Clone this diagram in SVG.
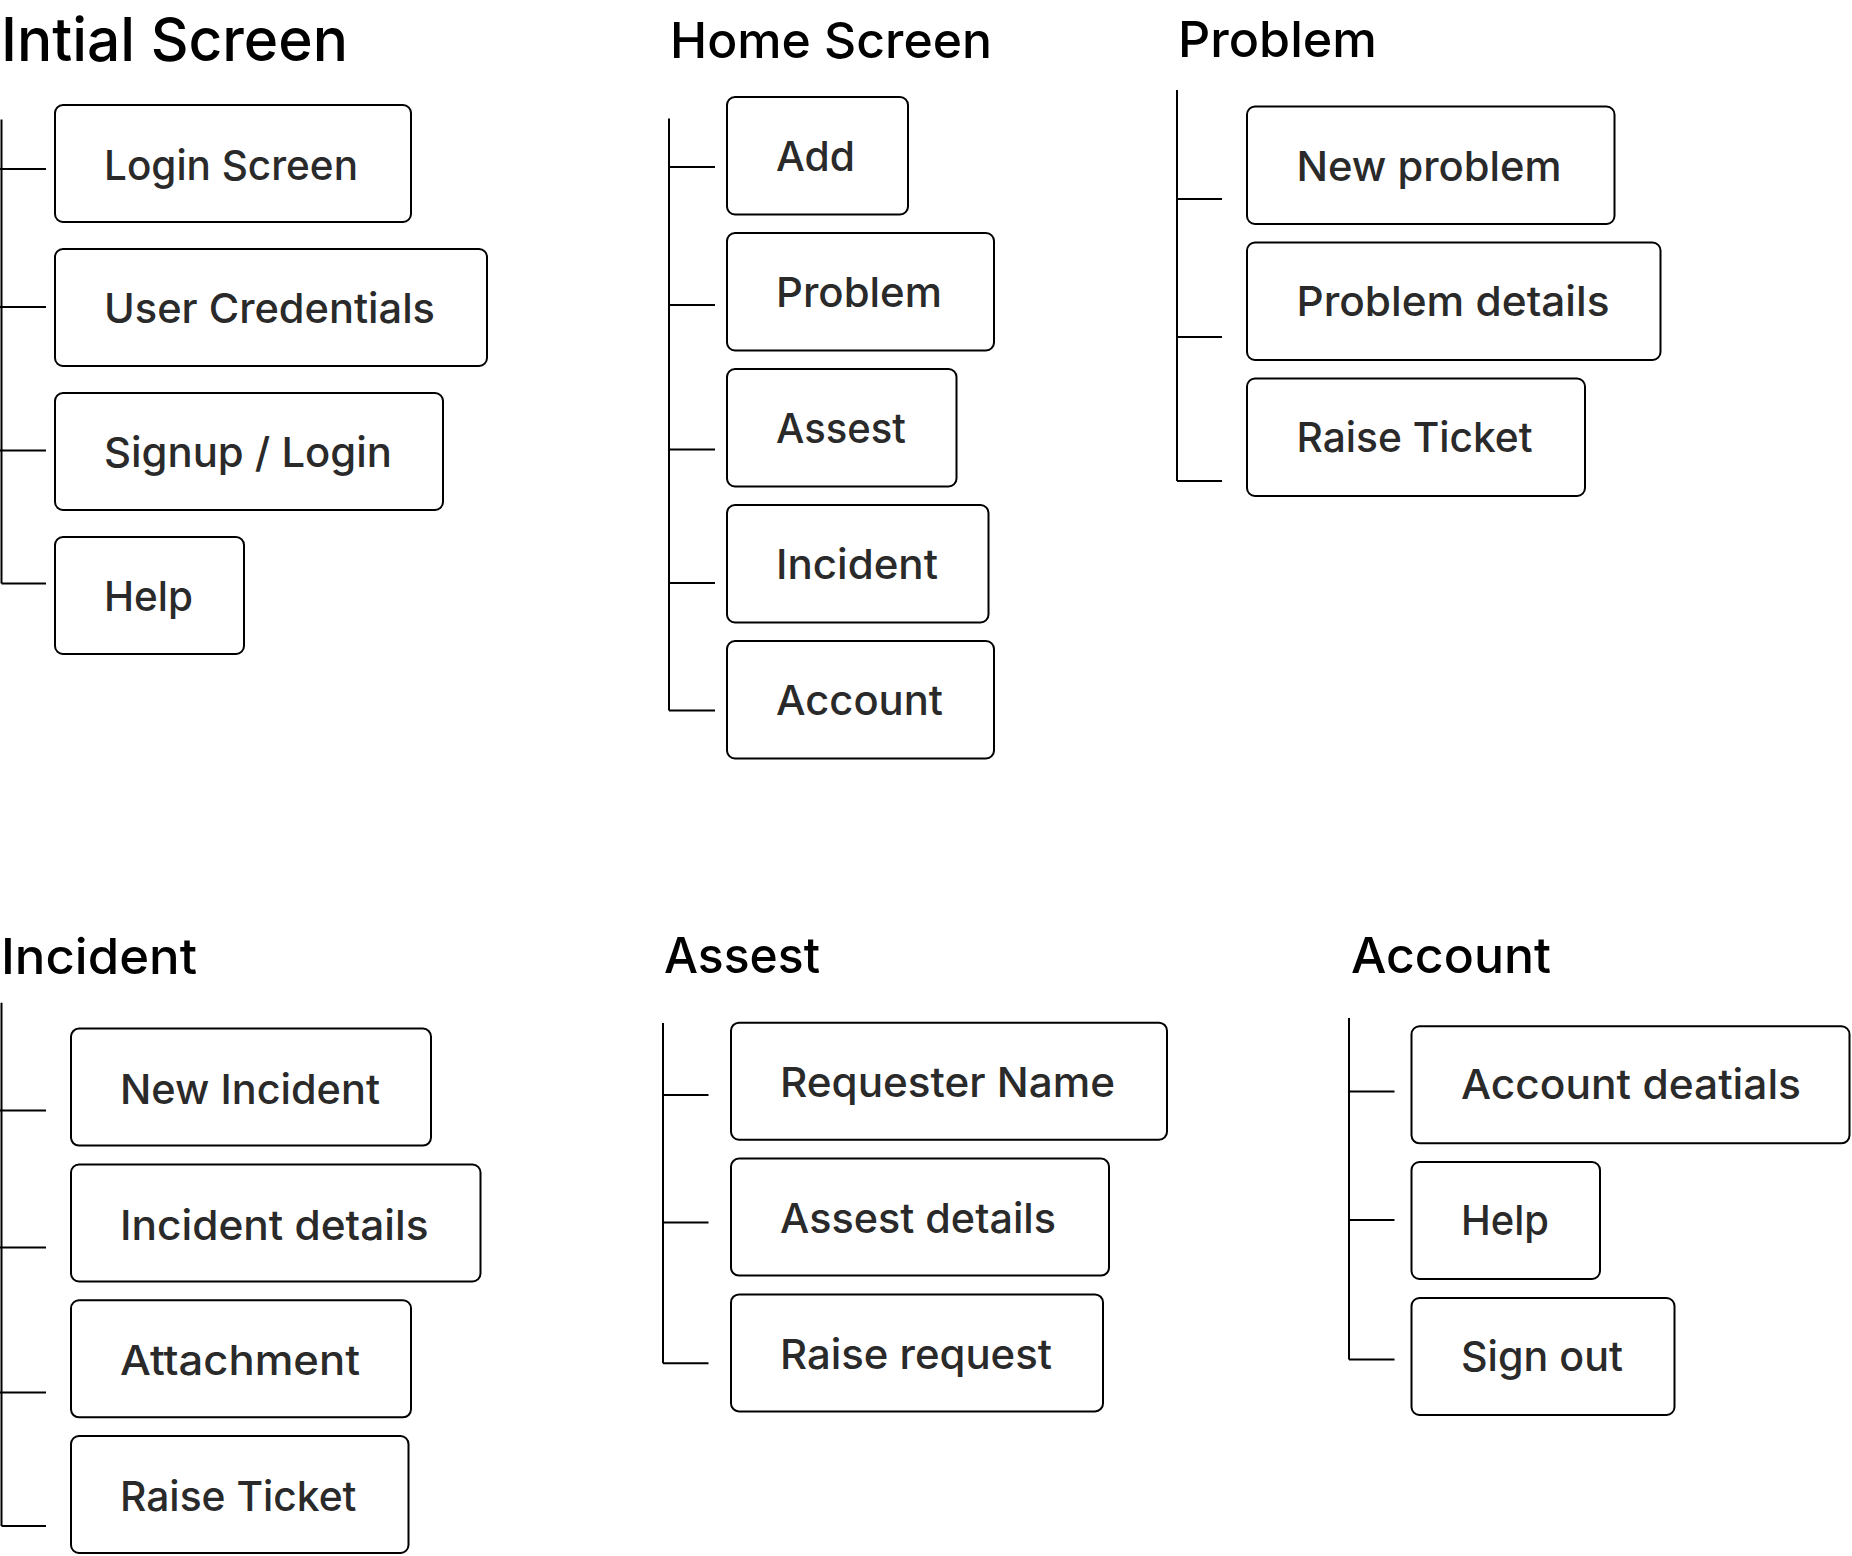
<svg xmlns="http://www.w3.org/2000/svg" width="1852" height="1556" viewBox="0 0 1852 1556">
<style>
.bg{fill:#ffffff}
.box{fill:#ffffff;stroke:#000000;stroke-width:2}
.lbl{font-family:Inter,"Open Sans","Liberation Sans",sans-serif;font-weight:500;font-size:41px;fill:#2a2a2a}
.ttl{font-family:Inter,"Open Sans","Liberation Sans",sans-serif;font-weight:500;font-size:50px;fill:#000000}
.big{font-size:60px}
.con{fill:none;stroke:#000000;stroke-width:2}
</style>
<rect class="bg" x="0" y="0" width="1852" height="1556"/>

<g id="connectors">
  <path class="con" d="M1.5,119.5 V583.5 M0,169 H46 M0,307 H46 M0,450.5 H46 M1.5,583.5 H46"/>
  <path class="con" d="M669,118.5 V710.5 M669,167 H715 M669,305 H715 M669,449.5 H715 M669,583 H715 M669,710.5 H715"/>
  <path class="con" d="M1177,90 V481 M1177,199 H1222 M1177,337 H1222 M1177,481 H1222"/>
  <path class="con" d="M1.5,1002.7 V1526 M0,1110.5 H46 M0,1247.5 H46 M0,1392.5 H46 M1.5,1526 H46"/>
  <path class="con" d="M663,1023 V1363.3 M663,1095 H708.5 M663,1222.5 H708.5 M663,1363.3 H708.5"/>
  <path class="con" d="M1349,1018 V1359.5 M1349,1091.5 H1394.5 M1349,1220 H1394.5 M1349,1359.5 H1394.5"/>
</g>

<g id="title-initial"><text class="ttl big" x="1" y="61" textLength="347" lengthAdjust="spacingAndGlyphs">Intial Screen</text></g>
<g id="node-login-screen"><rect class="box" x="55" y="105" width="356" height="117" rx="8"/><text class="lbl" x="104" y="179.5" textLength="254" lengthAdjust="spacingAndGlyphs">Login Screen</text></g>
<g id="node-user-credentials"><rect class="box" x="55" y="249" width="432" height="117" rx="8"/><text class="lbl" x="104" y="322.5" textLength="331" lengthAdjust="spacingAndGlyphs">User Credentials</text></g>
<g id="node-signup-login"><rect class="box" x="55" y="393" width="388" height="117" rx="8"/><text class="lbl" x="104" y="466.5" textLength="288" lengthAdjust="spacingAndGlyphs">Signup / Login</text></g>
<g id="node-help-initial"><rect class="box" x="55" y="537" width="189" height="117" rx="8"/><text class="lbl" x="104" y="610.5" textLength="89" lengthAdjust="spacingAndGlyphs">Help</text></g>

<g id="title-home"><text class="ttl" x="670" y="57.5" textLength="322" lengthAdjust="spacingAndGlyphs">Home Screen</text></g>
<g id="node-add"><rect class="box" x="727" y="97" width="181" height="117.5" rx="8"/><text class="lbl" x="776" y="171" textLength="79" lengthAdjust="spacingAndGlyphs">Add</text></g>
<g id="node-problem"><rect class="box" x="727" y="233" width="267" height="117.5" rx="8"/><text class="lbl" x="776" y="307" textLength="166" lengthAdjust="spacingAndGlyphs">Problem</text></g>
<g id="node-assest"><rect class="box" x="727" y="369" width="229.5" height="117.5" rx="8"/><text class="lbl" x="776" y="443" textLength="130" lengthAdjust="spacingAndGlyphs">Assest</text></g>
<g id="node-incident"><rect class="box" x="727" y="505" width="261.5" height="117.5" rx="8"/><text class="lbl" x="776" y="579" textLength="162" lengthAdjust="spacingAndGlyphs">Incident</text></g>
<g id="node-account"><rect class="box" x="727" y="641" width="267" height="117.5" rx="8"/><text class="lbl" x="776" y="715" textLength="167" lengthAdjust="spacingAndGlyphs">Account</text></g>

<g id="title-problem"><text class="ttl" x="1178" y="57" textLength="199" lengthAdjust="spacingAndGlyphs">Problem</text></g>
<g id="node-new-problem"><rect class="box" x="1247" y="106.5" width="367.5" height="117.5" rx="8"/><text class="lbl" x="1296.5" y="180.5" textLength="265" lengthAdjust="spacingAndGlyphs">New problem</text></g>
<g id="node-problem-details"><rect class="box" x="1247" y="242.5" width="413.5" height="117.5" rx="8"/><text class="lbl" x="1296.5" y="316" textLength="313" lengthAdjust="spacingAndGlyphs">Problem details</text></g>
<g id="node-raise-ticket-problem"><rect class="box" x="1247" y="378.5" width="338" height="117.5" rx="8"/><text class="lbl" x="1296.5" y="452" textLength="236" lengthAdjust="spacingAndGlyphs">Raise Ticket</text></g>

<g id="title-incident"><text class="ttl" x="1" y="973.6" textLength="196" lengthAdjust="spacingAndGlyphs">Incident</text></g>
<g id="node-new-incident"><rect class="box" x="71" y="1028.6" width="360" height="117" rx="8"/><text class="lbl" x="120" y="1103.6" textLength="260" lengthAdjust="spacingAndGlyphs">New Incident</text></g>
<g id="node-incident-details"><rect class="box" x="71" y="1164.5" width="409.5" height="117" rx="8"/><text class="lbl" x="120" y="1239.5" textLength="308.5" lengthAdjust="spacingAndGlyphs">Incident details</text></g>
<g id="node-attachment"><rect class="box" x="71" y="1300.3" width="340" height="117" rx="8"/><text class="lbl" x="120" y="1375.3" textLength="240" lengthAdjust="spacingAndGlyphs">Attachment</text></g>
<g id="node-raise-ticket-incident"><rect class="box" x="71" y="1436" width="337.5" height="117" rx="8"/><text class="lbl" x="120" y="1511" textLength="236.5" lengthAdjust="spacingAndGlyphs">Raise Ticket</text></g>

<g id="title-assest"><text class="ttl" x="664" y="973" textLength="156" lengthAdjust="spacingAndGlyphs">Assest</text></g>
<g id="node-requester-name"><rect class="box" x="731" y="1022.7" width="436" height="117" rx="8"/><text class="lbl" x="780" y="1097" textLength="335" lengthAdjust="spacingAndGlyphs">Requester Name</text></g>
<g id="node-assest-details"><rect class="box" x="731" y="1158.6" width="378" height="117" rx="8"/><text class="lbl" x="780" y="1233" textLength="276" lengthAdjust="spacingAndGlyphs">Assest details</text></g>
<g id="node-raise-request"><rect class="box" x="731" y="1294.4" width="372" height="117" rx="8"/><text class="lbl" x="780" y="1368.7" textLength="272" lengthAdjust="spacingAndGlyphs">Raise request</text></g>

<g id="title-account"><text class="ttl" x="1351" y="973.4" textLength="200" lengthAdjust="spacingAndGlyphs">Account</text></g>
<g id="node-account-deatials"><rect class="box" x="1411.5" y="1026.3" width="438" height="117" rx="8"/><text class="lbl" x="1461" y="1099" textLength="340" lengthAdjust="spacingAndGlyphs">Account deatials</text></g>
<g id="node-help-account"><rect class="box" x="1411.5" y="1162" width="188.5" height="117" rx="8"/><text class="lbl" x="1461" y="1235" textLength="88" lengthAdjust="spacingAndGlyphs">Help</text></g>
<g id="node-sign-out"><rect class="box" x="1411.5" y="1298" width="263" height="117" rx="8"/><text class="lbl" x="1461" y="1371" textLength="162" lengthAdjust="spacingAndGlyphs">Sign out</text></g>
</svg>
